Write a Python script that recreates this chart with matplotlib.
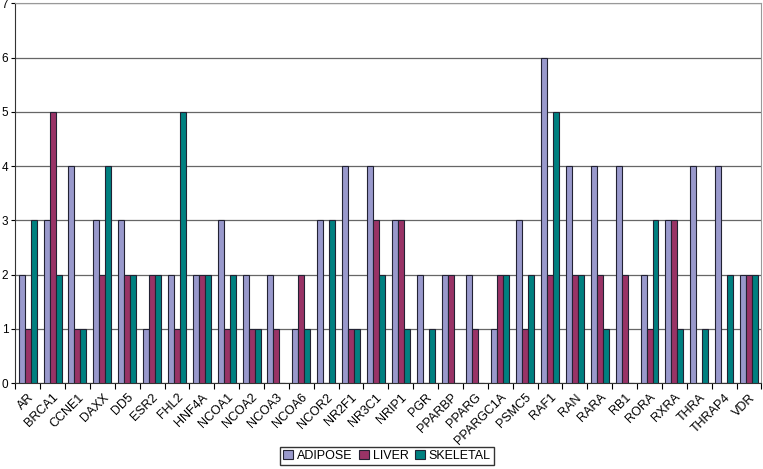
import numpy as np
import matplotlib.pyplot as plt

plt.rcParams['font.family'] = ['Liberation Sans', 'DejaVu Sans']

genes = ['AR', 'BRCA1', 'CCNE1', 'DAXX', 'DD5', 'ESR2', 'FHL2', 'HNF4A', 'NCOA1', 'NCOA2',
         'NCOA3', 'NCOA6', 'NCOR2', 'NR2F1', 'NR3C1', 'NRIP1', 'PGR', 'PPARBP', 'PPARG',
         'PPARGC1A', 'PSMC5', 'RAF1', 'RAN', 'RARA', 'RB1', 'RORA', 'RXRA', 'THRA', 'THRAP4', 'VDR']
adipose = [2, 3, 4, 3, 3, 1, 2, 2, 3, 2, 2, 1, 3, 4, 4, 3, 2, 2, 2, 1, 3, 6, 4, 4, 4, 2, 3, 4, 4, 2]
liver = [1, 5, 1, 2, 2, 2, 1, 2, 1, 1, 1, 2, 0, 1, 3, 3, 0, 2, 1, 2, 1, 2, 2, 2, 2, 1, 3, 0, 0, 2]
skeletal = [3, 2, 1, 4, 2, 2, 5, 2, 2, 1, 0, 1, 3, 1, 2, 1, 1, 0, 0, 2, 2, 5, 2, 1, 0, 3, 1, 1, 2, 2]

series = [('ADIPOSE', adipose, '#9999cc'),
          ('LIVER', liver, '#993366'),
          ('SKELETAL', skeletal, '#008080')]

fig = plt.figure(figsize=(7.63, 4.69), dpi=100)
ax = fig.add_axes([0.02, 0.183, 0.978, 0.81])

x = np.arange(len(genes))
w = 0.24
for i, (name, vals, col) in enumerate(series):
    ax.bar(x + (i - 1) * w, vals, w, color=col, edgecolor='#222233', linewidth=0.8, label=name, zorder=3)

ax.set_xlim(-0.5, len(genes) - 0.5)
ax.set_ylim(0, 7)
ax.set_yticks(range(8))
ax.yaxis.grid(True, color='#666666', linewidth=0.9, zorder=0)
ax.tick_params(axis='y', length=3, labelsize=8.5, pad=2)

# ticks between categories, labels centred on groups
ax.set_xticks(np.arange(len(genes) + 1) - 0.5)
ax.set_xticklabels([])
ax.set_xticks(x, minor=True)
ax.set_xticklabels(genes, minor=True, rotation=45, ha='right', va='top', fontsize=9,
                   rotation_mode='anchor')
ax.tick_params(axis='x', which='major', length=4, direction='out')
ax.tick_params(axis='x', which='minor', length=0, pad=6)

for s in ['top', 'right']:
    ax.spines[s].set_color('#999999')
ax.spines['left'].set_color('#333333')
ax.spines['bottom'].set_color('#333333')

fig.legend(loc='lower center', bbox_to_anchor=(0.507, -0.005), ncol=3, fontsize=9,
           frameon=True, fancybox=False, edgecolor='black', handlelength=0.8,
           handleheight=0.8, handletextpad=0.3, columnspacing=0.5, borderpad=0.25)

fig.savefig('out.png', dpi=100)
